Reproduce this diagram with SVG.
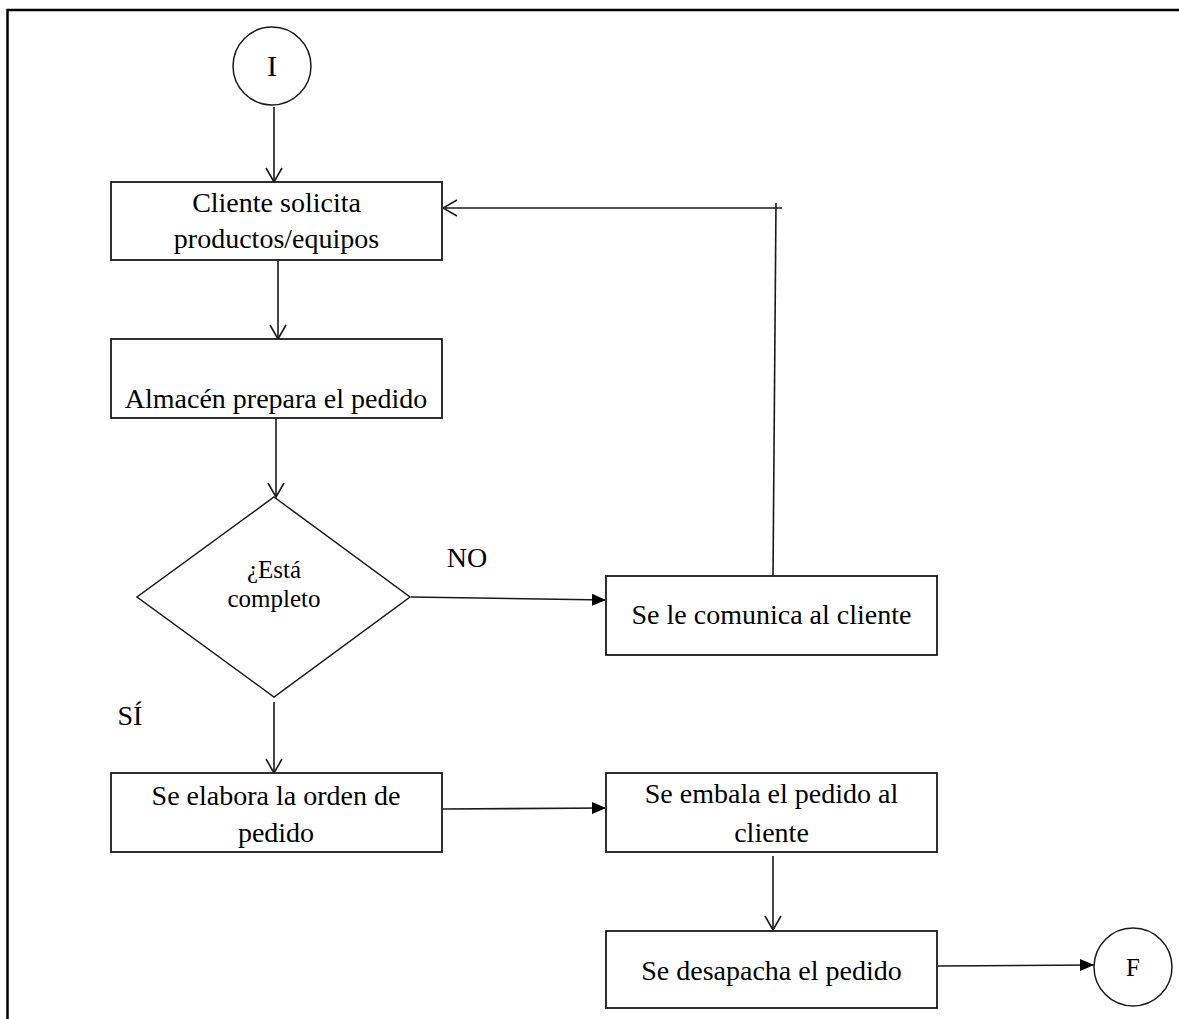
<svg xmlns="http://www.w3.org/2000/svg" width="1179" height="1019" viewBox="0 0 1179 1019">
<style>
.box{fill:#fff;stroke:#1a1a1a;stroke-width:1.8}
.shape{fill:#fff;stroke:#1a1a1a;stroke-width:1.5}
text{font-family:'Liberation Serif','Tinos','DejaVu Serif',serif}
.t{font-size:28px;fill:#000;text-anchor:middle}
.small{font-size:25px}
.conn{fill:none;stroke:#1a1a1a;stroke-width:1.6}
</style>
<defs>
<marker id="open" viewBox="0 0 16 18" refX="15" refY="9" markerWidth="16" markerHeight="18" orient="auto" markerUnits="userSpaceOnUse">
<path d="M1,1 L15,9 L1,17" fill="none" stroke="#1a1a1a" stroke-width="1.6"/>
</marker>
<marker id="fill" viewBox="0 0 14 12" refX="14" refY="6" markerWidth="14" markerHeight="12" orient="auto" markerUnits="userSpaceOnUse">
<path d="M0,0 L14,6 L0,12 z" fill="#000"/>
</marker>
</defs>
<rect width="1179" height="1019" fill="#fff"/>
<path d="M7.5,1019 V10 H1179" fill="none" stroke="#000" stroke-width="2.5"/>

<g id="connectors">
<line class="conn" x1="274" y1="107" x2="274" y2="182" marker-end="url(#open)"/>
<line class="conn" x1="278" y1="260" x2="278" y2="339" marker-end="url(#open)"/>
<line class="conn" x1="276" y1="418" x2="276" y2="497" marker-end="url(#open)"/>
<line class="conn" x1="411" y1="597" x2="606" y2="600" marker-end="url(#fill)"/>
<line class="conn" x1="773" y1="576" x2="776" y2="203"/>
<line class="conn" x1="782" y1="208" x2="443" y2="208" marker-end="url(#open)"/>
<line class="conn" x1="274" y1="702" x2="274" y2="773" marker-end="url(#open)"/>
<line class="conn" x1="443" y1="809" x2="606" y2="808" marker-end="url(#fill)"/>
<line class="conn" x1="773" y1="856" x2="773" y2="930" marker-end="url(#open)"/>
<line class="conn" x1="938" y1="966" x2="1094" y2="965" marker-end="url(#fill)"/>
</g>

<g id="start">
<circle class="shape" cx="272" cy="66" r="39"/>
<text class="t" x="272" y="76" style="font-size:30px">I</text>
</g>

<g id="cliente-solicita">
<rect class="box" x="111" y="182" width="331" height="78"/>
<text class="t" x="276.5" y="212">Cliente solicita</text>
<text class="t" x="276.5" y="248">productos/equipos</text>
</g>

<g id="almacen">
<rect class="box" x="111" y="339" width="331" height="79"/>
<text class="t" x="276" y="408">Almacén prepara el pedido</text>
</g>

<g id="decision">
<polygon class="shape" points="274,497 410,597 274,697 137,597"/>
<text class="t small" x="274" y="578">¿Está</text>
<text class="t small" x="274" y="607">completo</text>
</g>

<g id="label-no">
<text class="t" x="467" y="567">NO</text>
</g>
<g id="label-si">
<text class="t" x="130" y="725">SÍ</text>
</g>

<g id="comunica">
<rect class="box" x="606" y="576" width="331" height="79"/>
<text class="t" x="771.5" y="624">Se le comunica al cliente</text>
</g>

<g id="elabora">
<rect class="box" x="111" y="773" width="331" height="79"/>
<text class="t" x="276" y="805">Se elabora la orden de</text>
<text class="t" x="276" y="842">pedido</text>
</g>

<g id="embala">
<rect class="box" x="606" y="773" width="331" height="79"/>
<text class="t" x="771.5" y="803">Se embala el pedido al</text>
<text class="t" x="771.5" y="842">cliente</text>
</g>

<g id="despacha">
<rect class="box" x="606" y="931" width="331" height="77"/>
<text class="t" x="771.5" y="980">Se desapacha el pedido</text>
</g>

<g id="end">
<circle class="shape" cx="1133" cy="967" r="39"/>
<text class="t" x="1133" y="976" style="font-size:25px">F</text>
</g>
</svg>
